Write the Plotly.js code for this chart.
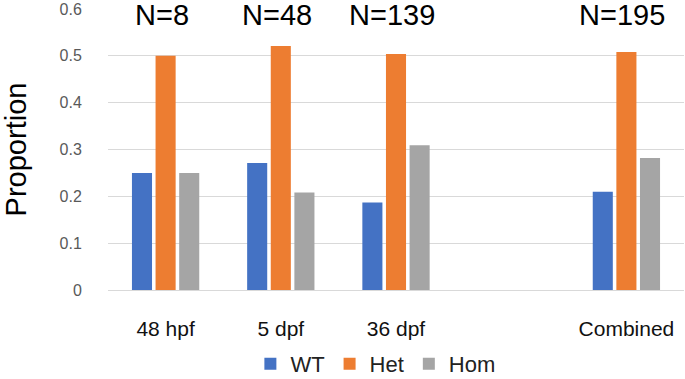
<!DOCTYPE html>
<html>
<head>
<meta charset="utf-8">
<script src="https://cdn.plot.ly/plotly-3.0.1.min.js"></script>
<style>html,body{margin:0;padding:0;background:#fff;}#chart{width:685px;height:379px;}</style>
</head>
<body>
<div id="chart"></div>
<script>
// Data
var categories = ['48 hpf', '5 dpf', '36 dpf', ' ', 'Combined'];
var wtValues   = [0.250, 0.271, 0.187, null, 0.210];
var hetValues  = [0.500, 0.521, 0.504, null, 0.508];
var homValues  = [0.250, 0.208, 0.309, null, 0.282];
var nLabels    = ['N=8', 'N=48', 'N=139', '', 'N=195'];
var seriesNames = ['WT', 'Het', 'Hom'];
var yTicks = [0, 0.1, 0.2, 0.3, 0.4, 0.5, 0.6];
var yTickText = ['0', '0.1', '0.2', '0.3', '0.4', '0.5', '0.6'];

var colors = ['#4472C4', '#ED7D31', '#A5A5A5'];
var font = 'Liberation Sans, Arial, sans-serif';

var traces = [wtValues, hetValues, homValues].map(function (vals, i) {
  return {
    type: 'bar',
    name: seriesNames[i],
    x: categories,
    y: vals,
    marker: {color: colors[i]},
    hoverinfo: 'x+y+name'
  };
});

var annotations = [];
categories.forEach(function (c, i) {
  if (nLabels[i]) {
    annotations.push({
      x: c, y: 0.55, xref: 'x', yref: 'y',
      text: nLabels[i], showarrow: false,
      xanchor: 'center', yanchor: 'bottom', xshift: -4, borderpad: 0,
      font: {family: font, size: 29, color: '#000000'}
    });
  }
});

var layout = {
  width: 685, height: 379,
  margin: {l: 108, r: 1, t: 9, b: 89},
  paper_bgcolor: '#ffffff', plot_bgcolor: '#ffffff',
  barmode: 'group', bargap: 0.385, bargroupgap: 0.15,
  font: {family: font},
  showlegend: true,
  legend: {
    orientation: 'h', xref: 'container', x: 0.548, xanchor: 'center',
    yref: 'container', y: 0.04, yanchor: 'middle',
    font: {family: font, size: 22, color: '#222222'},
    itemsizing: 'constant', tracegroupgap: 0
  },
  xaxis: {
    type: 'category', categoryorder: 'array', categoryarray: categories,
    showgrid: false, showline: false, zeroline: false,
    ticks: 'outside', ticklen: 20, tickcolor: 'rgba(0,0,0,0)',
    tickfont: {family: font, size: 21, color: '#111111'}
  },
  yaxis: {
    range: [0, 0.6], tickvals: yTicks, ticktext: yTickText,
    showgrid: true, gridcolor: '#D9D9D9', gridwidth: 1,
    zeroline: true, zerolinecolor: '#D9D9D9', zerolinewidth: 1,
    showline: false,
    ticks: 'outside', ticklen: 22, tickcolor: 'rgba(0,0,0,0)',
    tickfont: {family: font, size: 16, color: '#595959'},
    title: {text: 'Proportion', font: {family: font, size: 29, color: '#000000'}, standoff: 27}
  },
  annotations: annotations
};

Plotly.newPlot('chart', traces, layout, {displayModeBar: false, staticPlot: true});
</script>
</body>
</html>
